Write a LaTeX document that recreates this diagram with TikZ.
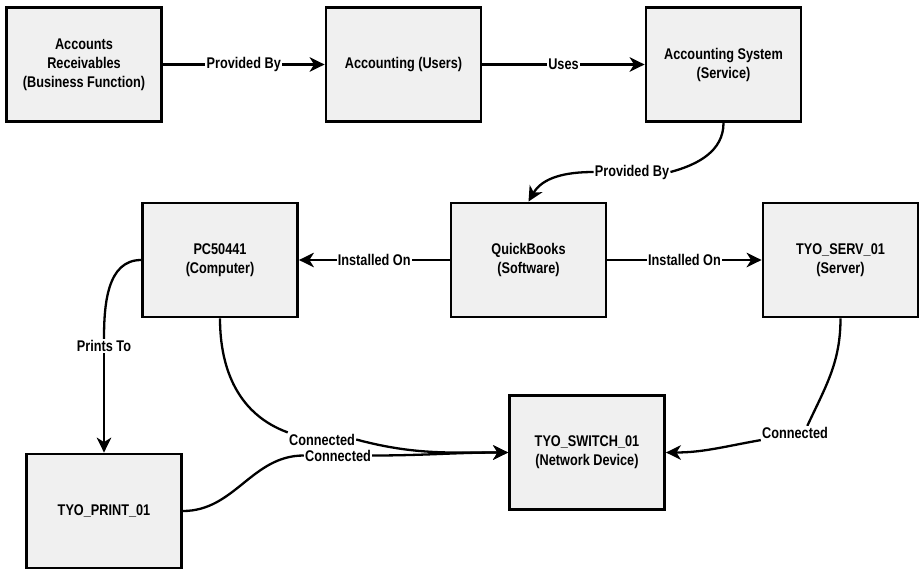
\documentclass[tikz,border=0pt]{standalone}
\usepackage{fontspec}
\setmainfont{Liberation Sans}[FakeStretch=0.82]
\usetikzlibrary{arrows.meta}
\pgfdeclarelayer{background}
\pgfsetlayers{background,main}
\definecolor{boxgray}{RGB}{240,240,240}

\begin{document}
\begin{tikzpicture}[x=1pt,y=1pt,
  font=\fontsize{15.5}{19}\selectfont\bfseries,
  entity/.style={draw=black, line width=2.8pt, fill=boxgray,
    minimum width=155pt, minimum height=114pt, align=center, inner sep=0pt},
  rel/.style={fill=white, inner sep=1.2pt},
  wire/.style={line width=2.3pt},
  link/.style={wire, -{Stealth[length=15pt,width=14.5pt,inset=4.5pt]}}]

\useasboundingbox (0,0) rectangle (921,-570);

% entities
\node[entity] (b1) at (84,-64.5)    {Accounts\\Receivables\\(Business Function)};
\node[entity] (b2) at (403.5,-64.5) {Accounting (Users)};
\node[entity] (b3) at (723.5,-64.5) {Accounting System\\(Service)};
\node[entity] (pc) at (220,-260)    {PC50441\\(Computer)};
\node[entity] (qb) at (528.5,-260)  {QuickBooks\\(Software)};
\node[entity] (sv) at (840.5,-260)  {TYO\_SERV\_01\\(Server)};
\node[entity] (pr) at (104,-511)    {TYO\_PRINT\_01};
\node[entity] (sw) at (587,-452.5)  {TYO\_SWITCH\_01\\(Network Device)};

% relationship labels on curved connectors
\node[rel] (l3) at (632,-172) {Provided By};
\node[rel] (l6) at (104,-346) {Prints To};
\node[rel] (l7) at (322,-439.5) {Connected};
\node[rel] (l8) at (338,-455.5) {Connected};
\node[rel] (l9) at (795,-433) {Connected};

\begin{pgfonlayer}{background}
  % straight relations
  \draw[link] (b1) -- node[rel] {Provided By} (b2);
  \draw[link] (b2) -- node[rel] {Uses} (b3);
  \draw[link] (qb) -- node[rel] {Installed On} (pc);
  \draw[link] (qb) -- node[rel] {Installed On} (sv);

  % service provided by software
  \draw[wire] (b3.south) to[out=-90,in=15] (l3.east);
  \draw[link] (l3.west) to[out=180,in=60] (qb.north);

  % computer prints to printer
  \draw[wire] (pc.west) to[out=180,in=90] (l6.north);
  \draw[link] (l6.south) -- (pr.north);

  % network connections
  \draw[wire] (pc.south) to[out=-90,in=160] (l7.north west);
  \draw[link] (l7.east) to[out=-15,in=180] (sw.west);
  \draw[wire] (pr.east) to[out=0,in=180] (l8.west);
  \draw[link] (l8.east) to[out=0,in=180] (sw.west);
  \draw[wire] (sv.south) to[out=-90,in=65] (l9.30);
  \draw[link] (l9.south west) to[out=190,in=0] (sw.east);
\end{pgfonlayer}
\end{tikzpicture}
\end{document}
